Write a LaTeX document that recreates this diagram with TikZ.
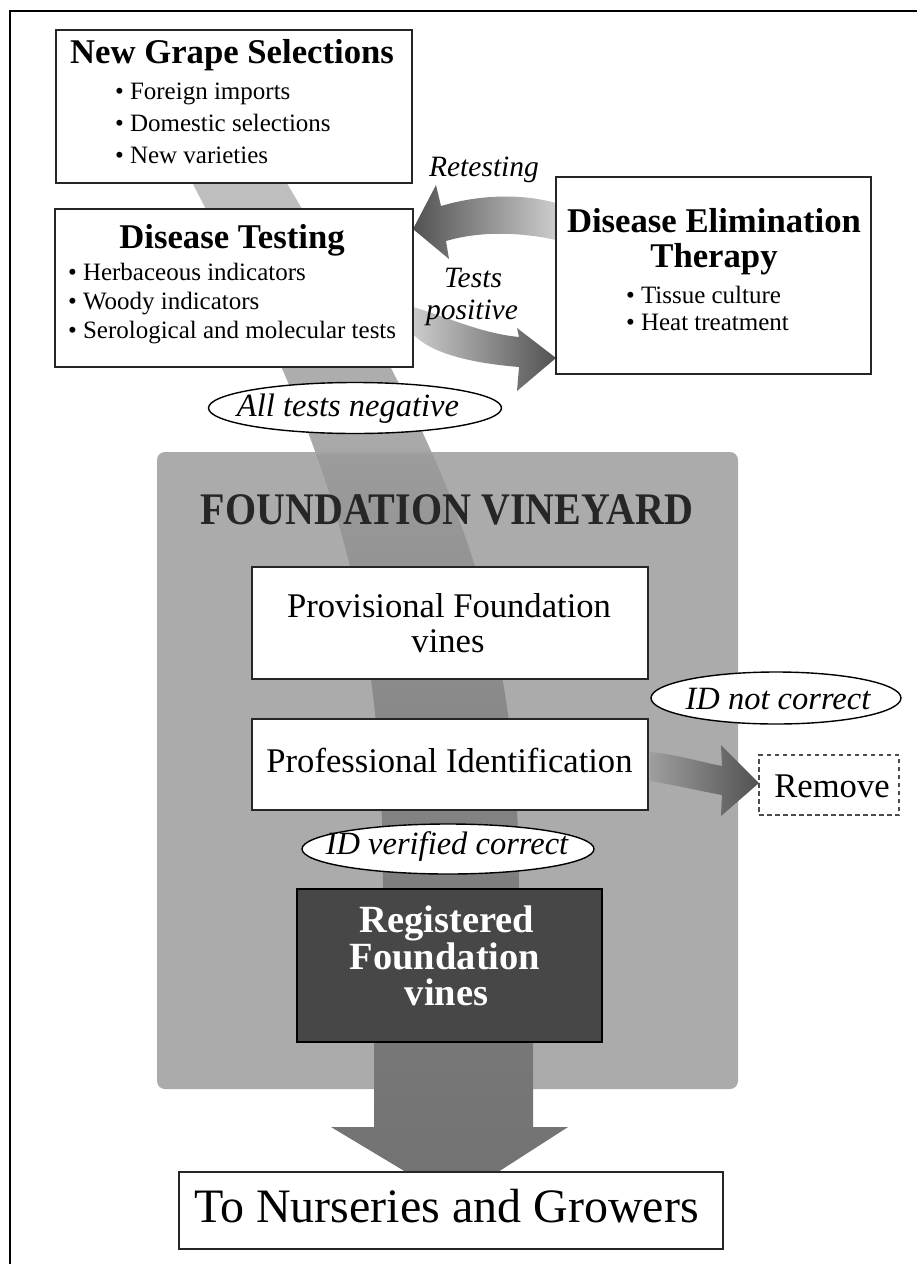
\documentclass[tikz,border=0pt]{standalone}
\usepackage{fontspec}
\setmainfont{Liberation Serif}
\usetikzlibrary{shapes.geometric,calc}
\definecolor{bgG}{gray}{0.67}
\definecolor{regG}{gray}{0.28}
\definecolor{arrD}{gray}{0.32}
\definecolor{arrL}{gray}{0.80}
\definecolor{remL}{gray}{0.62}
\definecolor{fvG}{gray}{0.15}
\definecolor{cA}{gray}{0.45}
\definecolor{cB}{gray}{0.49}
\definecolor{cC}{gray}{0.54}
\definecolor{cD}{gray}{0.61}
\definecolor{cE}{gray}{0.66}
\definecolor{cF}{gray}{0.68}
\definecolor{cG}{gray}{0.75}
\definecolor{cH}{gray}{0.77}
\pgfdeclareverticalshading{bandshade}{100bp}{color(0bp)=(cA); color(25bp)=(cA); color(38.3bp)=(cB); color(48.1bp)=(cC); color(60.05bp)=(cD); color(60.35bp)=(cE); color(64.4bp)=(cF); color(73.4bp)=(cG); color(75bp)=(cH); color(100bp)=(cH)}
\pgfdeclarelayer{back}
\pgfsetlayers{back,main}
\begin{document}
\begin{tikzpicture}[x=1pt,y=-1pt,
  box/.style={draw=black!85, line width=2.2pt, fill=white, inner sep=0pt, outer sep=0pt},
  oval/.style={ellipse, draw=black, line width=1.4pt, fill=white, inner sep=0pt, outer sep=0pt},
  txt/.style={inner sep=0pt, outer sep=0pt},
  head/.style={txt, anchor=base, font=\fontsize{34.7}{40}\selectfont\bfseries},
  item/.style={txt, anchor=base west, font=\fontsize{25}{29}\selectfont},
  big/.style={txt, anchor=base, font=\fontsize{34.6}{40}\selectfont},
  itl/.style={txt, anchor=base, font=\fontsize{32.5}{38}\selectfont\itshape},
  lab/.style={txt, anchor=base, font=\fontsize{29.5}{34}\selectfont\itshape},
  regt/.style={txt, anchor=base, text=white, font=\fontsize{38.5}{44}\selectfont\bfseries}]
\useasboundingbox (0,0) rectangle (917,1264);
% frame
\draw[line width=1.3pt, black] (10,1264) -- (10,11) -- (917,11);

% boxes
\node[box, minimum width=356pt, minimum height=153pt] (ngs) at (234,106.5) {};
\node[box, minimum width=358pt, minimum height=158pt] (dt) at (234,288) {};
\node[box, minimum width=315pt, minimum height=197pt] (det) at (713.5,275.5) {};
\node[oval, minimum width=293pt, minimum height=51pt] (neg) at (355,408) {};
\node[box, minimum width=396pt, minimum height=112pt] (prov) at (450,623) {};
\node[box, minimum width=396pt, minimum height=91pt] (pid) at (450,764.5) {};
\node[oval, minimum width=250pt, minimum height=52pt] (notc) at (776,698) {};
\node[draw=black!70, dashed, dash pattern=on 4.5pt off 3.5pt, line width=1.6pt, inner sep=0pt, outer sep=0pt, minimum width=140pt, minimum height=60pt] (rem) at (829,785) {};
\node[oval, minimum width=292pt, minimum height=50pt] (ver) at (448,849) {};
\node[draw=black, line width=2.2pt, fill=regG, inner sep=0pt, outer sep=0pt, minimum width=305pt, minimum height=153pt] (reg) at (449.5,965.5) {};
\node[box, minimum width=544pt, minimum height=77pt] (nur) at (451,1210.5) {};

\begin{pgfonlayer}{back}
\fill[bgG, rounded corners=8pt] (157,452) rectangle (738,1089);
\shade[shading=bandshade]
  ($(ngs.south)+(-59,-33)$) .. controls (334,450) and (383,600) .. (383,889)
  -- (374,1042) -- (374,1127) -- (331,1127) -- ($(nur.north)+(-45,0)$)
  -- ($(nur.north)+(47,0)$) -- (568,1127) -- (533,1127) -- (533,1042)
  -- (519,889) .. controls (519,600) and (447,450) .. ($(ngs.south)+(33,-33)$) -- cycle;
% retesting arrow
\shade[left color=arrD, right color=arrL]
  ($(det.west)+(0,-72.5)$) .. controls (520,193) and (478,195) .. (441,206)
  -- (436,185) -- ($(dt.east)+(0,-59)$) -- (449,259) -- (446,241)
  .. controls (480,231) and (520,232) .. ($(det.west)+(0,-35.5)$) -- cycle;
% tests positive arrow
\shade[left color=arrL, right color=arrD]
  ($(dt.east)+(0,19)$) .. controls (450,318) and (480,333) .. (519,337)
  -- (517,328) -- ($(det.west)+(0,82.5)$) -- (517,391) -- (519,367)
  .. controls (470,363) and (430,353) .. ($(dt.east)+(0,46)$) -- cycle;
% remove arrow
\shade[left color=remL, right color=arrD]
  ($(pid.east)+(2,-12.5)$) .. controls (680,755) and (700,762) .. (722,766)
  -- (721,745) -- ($(rem.west)+(0,-2)$) -- (721,816) -- (722,795)
  .. controls (700,791) and (675,785) .. ($(pid.east)+(2,16.5)$) -- cycle;
\end{pgfonlayer}

% texts
\node[head] (ngsT) at (232,63) {New Grape Selections};
\node[item] (ngs1) at (115,99) {\textbullet\ Foreign imports};
\node[item] (ngs2) at (115,131) {\textbullet\ Domestic selections};
\node[item] (ngs3) at (115,163) {\textbullet\ New varieties};

\node[head] (dtT) at (232,248) {Disease Testing};
\node[item] (dt1) at (68,280) {\textbullet\ Herbaceous indicators};
\node[item] (dt2) at (68,309) {\textbullet\ Woody indicators};
\node[item] (dt3) at (68,338) {\textbullet\ Serological and molecular tests};

\node[head] (detT1) at (714,232) {Disease Elimination};
\node[head] (detT2) at (714,267) {Therapy};
\node[item] (det1) at (626,303) {\textbullet\ Tissue culture};
\node[item] (det2) at (626,330) {\textbullet\ Heat treatment};

\node[lab] (retest) at (484,176) {Retesting};
\node[lab] (tests) at (473,287) {Tests};
\node[lab] (posit) at (472,319) {positive};

\node[itl] (negT) at (348,416) {All tests negative};

\node[txt, anchor=base, text=fvG, font=\fontsize{40}{46}\selectfont\bfseries] (fv) at (447,524) {\scalebox{1}[1.13]{FOUNDATION VINEYARD}};

\node[big] (provT1) at (449,617) {Provisional Foundation};
\node[big] (provT2) at (448,652) {vines};
\node[big] (pidT) at (449.5,772) {Professional Identification};
\node[itl] (notcT) at (778,709) {ID not correct};
\node[big] (remT) at (832,797) {Remove};
\node[itl] (verT) at (447,854) {ID verified correct};

\node[regt] (regT1) at (447,932) {Registered};
\node[regt] (regT2) at (445,969) {Foundation};
\node[regt] (regT3) at (446.5,1005) {vines};

\node[txt, anchor=base, font=\fontsize{48}{54}\selectfont] (nurT) at (446.5,1222) {To Nurseries and Growers};
\end{tikzpicture}
\end{document}
